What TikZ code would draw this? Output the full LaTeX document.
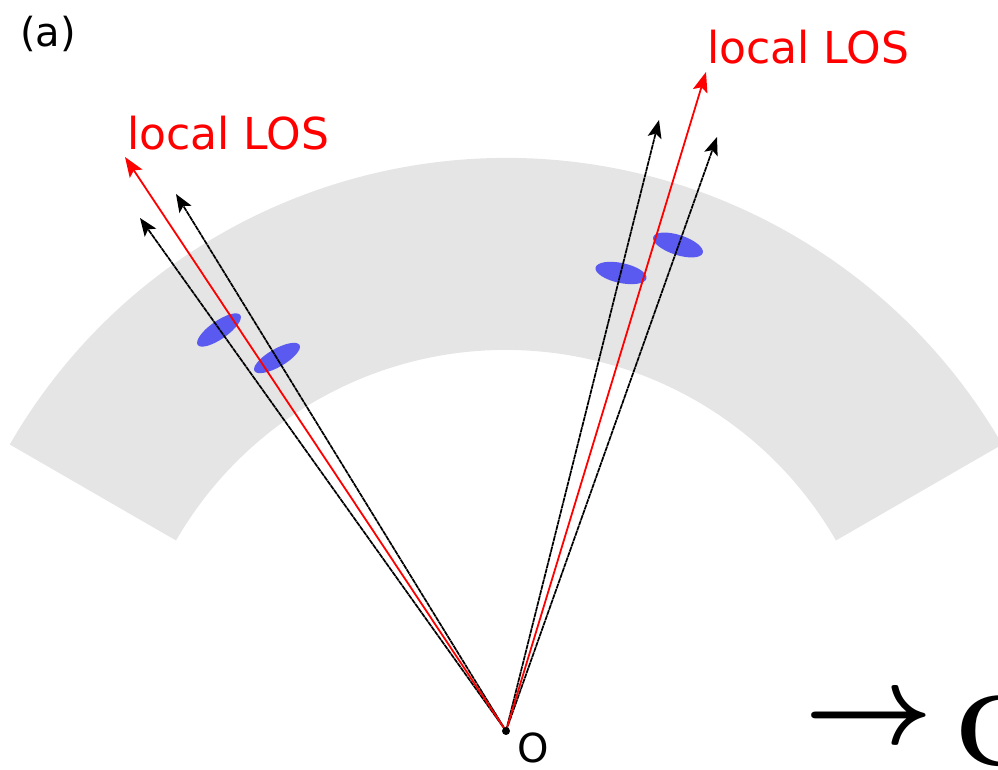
\documentclass[tikz,border=0pt]{standalone}
\usepackage{fontspec}
\usetikzlibrary{arrows.meta, calc}
\newfontfamily\dejavu{DejaVu Sans}
\definecolor{shellgray}{RGB}{229,229,229}
\definecolor{blobblue}{RGB}{90,90,240}

\begin{document}
\begin{tikzpicture}[x=0.5pt, y=0.5pt,
  los/.style={draw=red, line width=0.9pt, -{Stealth[length=10pt, width=7.5pt, inset=2pt]}},
  ray/.style={draw=black, line width=0.85pt, dash pattern=on 2.5pt off 0.3pt,
              -{Stealth[length=9pt, width=7pt, inset=2pt]}},
  blob/.style={fill=blobblue, draw=none},
  lbl/.style={font=\dejavu\fontsize{22}{26}\selectfont, text=red, inner sep=0pt, anchor=base west}
]
\useasboundingbox (0,0) rectangle (998,770);

% origin
\coordinate (O) at (506,39);

% shell
\fill[shellgray] ($(O)+(30:381)$) arc[start angle=30, end angle=150, radius=381]
  -- ($(O)+(150:573)$) arc[start angle=150, end angle=30, radius=573] -- cycle;

% ray tips
\coordinate (lred) at (125,613);
\coordinate (lb1) at (140,552);
\coordinate (lb2) at (176,576);
\coordinate (rred) at (706,698);
\coordinate (rb1) at (659,650);
\coordinate (rb2) at (717,633);

% blobs
\fill[blob, rotate around={35:(219,440)}] (219,440) ellipse[x radius=26, y radius=9];
\fill[blob, rotate around={30:(277,412)}] (277,412) ellipse[x radius=26, y radius=9];
\fill[blob, rotate around={-12:(621,497)}] (621,497) ellipse[x radius=26, y radius=10];
\fill[blob, rotate around={-18:(678,525)}] (678,525) ellipse[x radius=26, y radius=10];

% rays
\draw[ray] (O) -- (lb1);
\draw[ray] (O) -- (lb2);
\draw[los] (O) -- (lred);
\draw[ray] (O) -- (rb1);
\draw[ray] (O) -- (rb2);
\draw[los] (O) -- (rred);

\fill (O) circle[radius=2pt];

% labels
\node[lbl] (losl) at (127,620) {local LOS};
\node[lbl] (losr) at (707,706) {local LOS};
\node[font=\dejavu\fontsize{20}{24}\selectfont, inner sep=0pt, anchor=base west] (olbl) at (517,7) {O};
\node[font=\dejavu\fontsize{20}{24}\selectfont, inner sep=0pt, anchor=base west] (tag) at (20,723) {(a)};

% direction
\node[inner sep=0pt, anchor=west] (arrC) at (804,48) {\scalebox{5.6}{\boldmath$\rightarrow$}};
\node[font=\fontsize{50}{60}\selectfont\bfseries, inner sep=0pt, anchor=north west] (dirC) at (955,75) {C};
\end{tikzpicture}
\end{document}
